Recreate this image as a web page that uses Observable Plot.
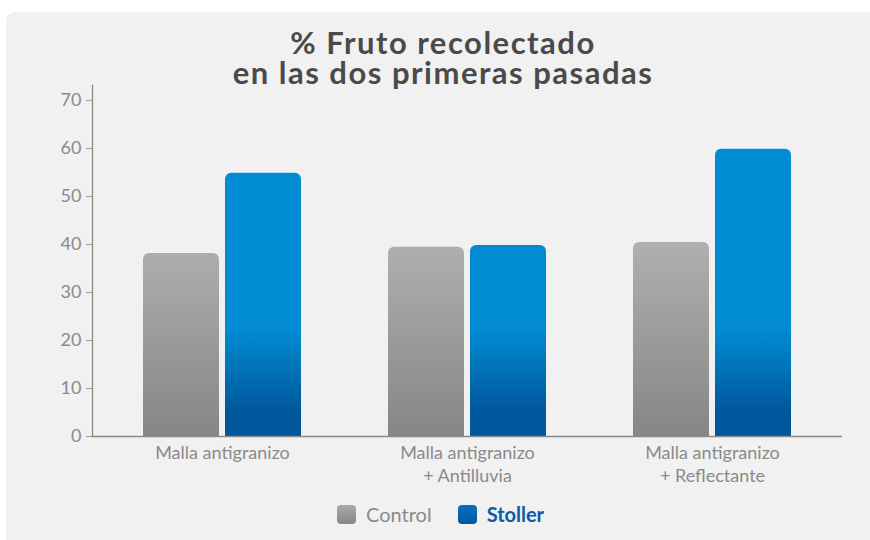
<!DOCTYPE html>
<html>
<head>
<meta charset="utf-8">
<script src="https://cdn.jsdelivr.net/npm/d3@7"></script>
<script src="https://cdn.jsdelivr.net/npm/@observablehq/plot@0.6"></script>
<style>
  html, body { margin: 0; padding: 0; background: #ffffff; }
  #wrap { position: relative; width: 870px; height: 540px; overflow: hidden; font-family: Lato, "Open Sans", sans-serif; }
  #panel { position: absolute; left: 6px; top: 12px; width: 880px; height: 560px; background: #f1f1f1; border-radius: 9px; }
  .tl { position: absolute; left: 0; width: 886px; text-align: center; font-weight: 700; font-size: 31px; line-height: 28px; height: 28px; color: #4a4a4a; letter-spacing: 1.5px; }
  #chart { position: absolute; left: 0; top: 0; }
  #legend { position: absolute; top: 502px; left: 337px; display: flex; align-items: center; font-size: 20px; }
  .sw { width: 19px; height: 19px; border-radius: 4px; display: inline-block; margin-right: 10px; }
  .item { display: flex; align-items: center; margin-right: 26px; }
</style>
</head>
<body>
<div id="wrap">
  <div id="panel"></div>
  <div class="tl" style="top:28px">% Fruto recolectado</div>
  <div class="tl" style="top:58px">en las dos primeras pasadas</div>
  <div id="chart"></div>
  <div id="legend"></div>
</div>
<script>
const groups = ["Malla antigranizo", "Malla antigranizo\n+ Antilluvia", "Malla antigranizo\n+ Reflectante"];
const series = ["Control", "Stoller"];
const controlValues = [38.1, 39.4, 40.4];
const stollerValues = [54.8, 39.8, 59.8];
const yTicks = [0, 10, 20, 30, 40, 50, 60, 70];

const data = [];
groups.forEach((g, i) => {
  data.push({group: g, series: "Control", value: controlValues[i]});
  data.push({group: g, series: "Stoller", value: stollerValues[i]});
});
const control = data.filter(d => d.series === "Control");
const stoller = data.filter(d => d.series === "Stoller");

const defs = () => {
  const ns = "http://www.w3.org/2000/svg";
  const d = document.createElementNS(ns, "defs");
  d.innerHTML = `
    <linearGradient id="gGray" gradientUnits="userSpaceOnUse" x1="0" y1="240" x2="0" y2="436">
      <stop offset="0" stop-color="#b1b0ae"/>
      <stop offset="1" stop-color="#868686"/>
    </linearGradient>
    <linearGradient id="gBlue" gradientUnits="userSpaceOnUse" x1="0" y1="330" x2="0" y2="412">
      <stop offset="0" stop-color="#008bd2"/>
      <stop offset="1" stop-color="#00579b"/>
    </linearGradient>`;
  return d;
};

const barCommon = {x: "group", y: "value"};
const plot = Plot.plot({
  width: 870,
  height: 540,
  marginLeft: 92,
  marginRight: 28,
  marginTop: 85,
  marginBottom: 104,
  style: {background: "transparent", fontFamily: "Lato, 'Open Sans', sans-serif"},
  x: {domain: groups, paddingInner: 0.355, paddingOuter: 0.208, label: null},
  y: {domain: [0, 73.1], label: null},
  marks: [
    defs,
    Plot.barY(control, {...barCommon, fill: "url(#gGray)", rx: 6, insetRight: 82}),
    Plot.barY(control, {x: "group", y1: 0, y2: d => Math.min(d.value, 3), fill: "url(#gGray)", insetRight: 82}),
    Plot.barY(stoller, {...barCommon, fill: "url(#gBlue)", rx: 6, insetLeft: 82}),
    Plot.barY(stoller, {x: "group", y1: 0, y2: d => Math.min(d.value, 3), fill: "url(#gBlue)", insetLeft: 82}),
    Plot.frame({anchor: "left", stroke: "#8a8a8a", strokeWidth: 1.3}),
    Plot.ruleY([0], {stroke: "#8a8a8a", strokeWidth: 1.3}),
    Plot.axisY({ticks: yTicks, tickSize: 6, tickPadding: 5, fontSize: 18, color: "#8a8a8a", stroke: "#9a9a9a", label: null}),
    Plot.axisX({tickSize: 0, tickPadding: 5, fontSize: 18, color: "#8a8a8a", lineHeight: 1.33, label: null, style: {letterSpacing: "0.5px"}})
  ]
});
document.getElementById("chart").appendChild(plot);

const legend = document.getElementById("legend");
const legendColors = {Control: "linear-gradient(#a9a9a8, #878787)", Stoller: "linear-gradient(#0a6fc0, #00569c)"};
const legendText = {Control: "#8a8a8a", Stoller: "#0a5ca8"};
series.forEach(s => {
  const it = document.createElement("div");
  it.className = "item";
  const sw = document.createElement("span");
  sw.className = "sw";
  sw.style.background = legendColors[s];
  const t = document.createElement("span");
  t.textContent = s;
  t.style.color = legendText[s];
  if (s === "Stoller") t.style.fontWeight = "700";
  it.appendChild(sw); it.appendChild(t);
  legend.appendChild(it);
});
</script>
</body>
</html>
